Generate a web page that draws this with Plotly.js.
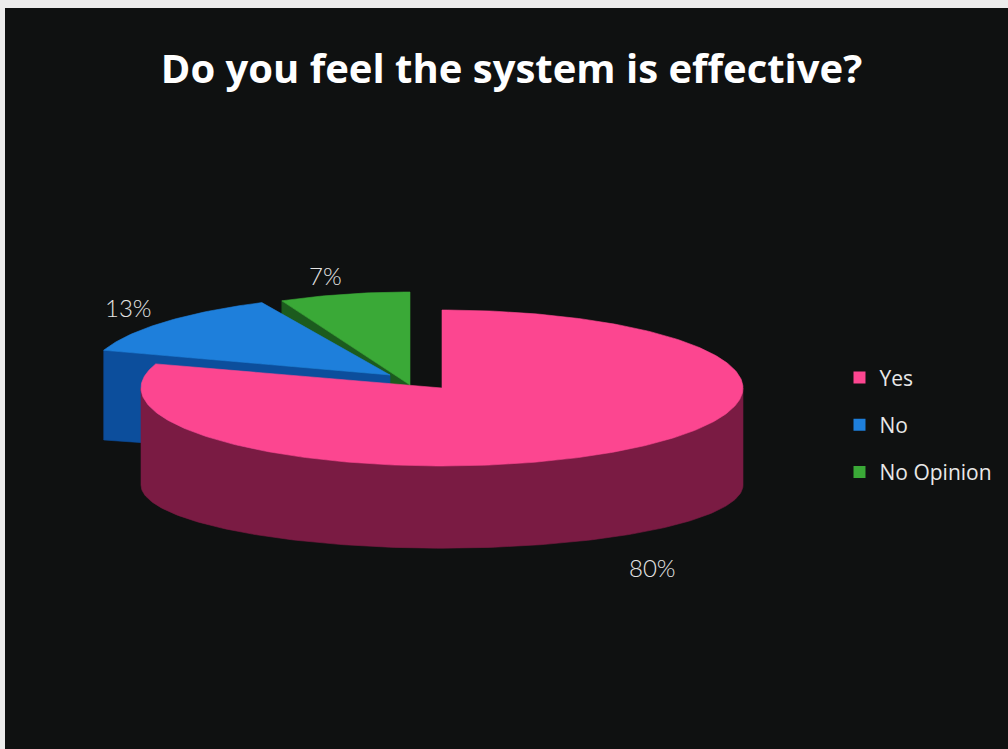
<!DOCTYPE html>
<html>
<head>
<meta charset="utf-8">
<script src="https://cdn.plot.ly/plotly-3.0.1.min.js"></script>
<style>
  html, body { margin: 0; padding: 0; background: #ececec; }
  #chart { width: 1008px; height: 749px; }
</style>
</head>
<body>
<div id="chart"></div>
<script>
// Survey answers
const categories = ['Yes', 'No', 'No Opinion'];
const values = [80, 13, 7];

// Slice colours: top face and darker wall
const topColors = ['#fc4690', '#1e7fdb', '#3aa937'];
const wallColors = ['#7a1b43', '#0c4e9c', '#1c5b1e'];

// Pie geometry in pixel units (axes are mapped 1:1 to pixels)
const pie = { cx: 442, cy: 388, rx: 301, baseRatio: 0.81 };
// Per-slice offset (explosion), vertical radius of the top face and wall depth
const sliceGeom = [
  { dx: 0,   dy: 0,   ry: 78, depth: 97 },
  { dx: -52, dy: -13, ry: 80, depth: 85 },
  { dx: -32, dy: -3,  ry: 93, depth: 85 }
];
// Label offsets from the middle of each slice's outer edge
const labelShift = [[34, 116], [-36, -15], [-19, -19]];

const total = values.reduce((a, b) => a + b, 0);

// Angles measured clockwise from 12 o'clock, in degrees
function topPoint(g, deg) {
  const t = deg * Math.PI / 180;
  return [pie.cx + g.dx + pie.rx * Math.sin(t), pie.cy + g.dy - g.ry * Math.cos(t)];
}
function basePoint(g, deg) {
  const t = deg * Math.PI / 180;
  return [pie.cx + g.dx + pie.rx * Math.sin(t),
          pie.cy + g.dy + g.depth - g.ry * pie.baseRatio * Math.cos(t)];
}
function arc(fn, g, a0, a1) {
  const pts = [];
  const n = Math.max(2, Math.ceil(Math.abs(a1 - a0)));
  for (let i = 0; i <= n; i++) pts.push(fn(g, a0 + (a1 - a0) * i / n));
  return pts;
}
function polyTrace(pts, color) {
  return {
    x: pts.map(p => p[0]), y: pts.map(p => p[1]),
    type: 'scatter', mode: 'lines', fill: 'toself',
    fillcolor: color, line: { color: color, width: 0.6 },
    hoverinfo: 'skip', showlegend: false
  };
}

// Slice angle ranges
const ranges = [];
let acc = 0;
values.forEach(v => {
  const a0 = acc / total * 360;
  acc += v;
  ranges.push([a0, acc / total * 360]);
});

// Build faces per slice
const facesBySlice = values.map((v, i) => {
  const g = sliceGeom[i];
  const [a0, a1] = ranges[i];
  const tipTop = [pie.cx + g.dx, pie.cy + g.dy];
  const tipBase = [tipTop[0], tipTop[1] + g.depth];
  const traces = [];
  // visible radial wall at the starting edge of the exploded slices
  if (i > 0) {
    const oTop = topPoint(g, a0), oBase = basePoint(g, a0);
    traces.push(polyTrace([tipTop, oTop, oBase, tipBase, tipTop], wallColors[i]));
  }
  // outer wall on the front half
  const f0 = Math.max(a0, 90), f1 = Math.min(a1, 270);
  if (f1 > f0) {
    const pts = arc(topPoint, g, f0, f1).concat(arc(basePoint, g, f1, f0));
    pts.push(pts[0]);
    traces.push(polyTrace(pts, wallColors[i]));
  }
  // top face
  const top = [tipTop].concat(arc(topPoint, g, a0, a1));
  top.push(tipTop);
  traces.push(polyTrace(top, topColors[i]));
  return traces;
});

// Paint back-to-front: No Opinion, No, Yes
const data = [].concat(facesBySlice[2], facesBySlice[1], facesBySlice[0]);

// Legend entries
categories.forEach((c, i) => {
  data.push({
    x: [null], y: [null], type: 'scatter', mode: 'markers', name: c,
    legendgroup: 'g' + i,
    marker: { symbol: 'square', size: 12, color: topColors[i] },
    hoverinfo: 'skip'
  });
});

// Percentage labels
const annotations = values.map((v, i) => {
  const [a0, a1] = ranges[i];
  const p = topPoint(sliceGeom[i], (a0 + a1) / 2);
  return {
    x: p[0] + labelShift[i][0], y: p[1] + labelShift[i][1],
    xref: 'x', yref: 'y', showarrow: false,
    text: Math.round(v / total * 100) + '%',
    font: { family: 'Lato, sans-serif', size: 24, color: '#e4e4e4', weight: 300 },
    xanchor: 'center', yanchor: 'middle'
  };
});

const layout = {
  width: 1008, height: 749,
  margin: { l: 5, r: 0, t: 8, b: 0 },
  paper_bgcolor: '#ececec',
  plot_bgcolor: '#0f1111',
  title: {
    text: 'Do you feel the system is effective?',
    font: { family: '"Open Sans", sans-serif', size: 40, color: '#ffffff', weight: 700 },
    x: 0.505, xanchor: 'center', xref: 'paper',
    y: 1 - 62 / 749, yanchor: 'middle', yref: 'paper'
  },
  xaxis: { range: [5, 1008], visible: false, fixedrange: true },
  yaxis: { range: [749, 8], visible: false, fixedrange: true },
  showlegend: true,
  legend: {
    x: 0.832, xanchor: 'left', y: 1 - 353 / 749, yanchor: 'top',
    bgcolor: 'rgba(0,0,0,0)',
    font: { family: '"Open Sans", sans-serif', size: 21, color: '#e8e8e8' },
    traceorder: 'grouped', tracegroupgap: 17
  },
  annotations: annotations
};

Plotly.newPlot('chart', data, layout, { staticPlot: true, displayModeBar: false });
</script>
</body>
</html>
